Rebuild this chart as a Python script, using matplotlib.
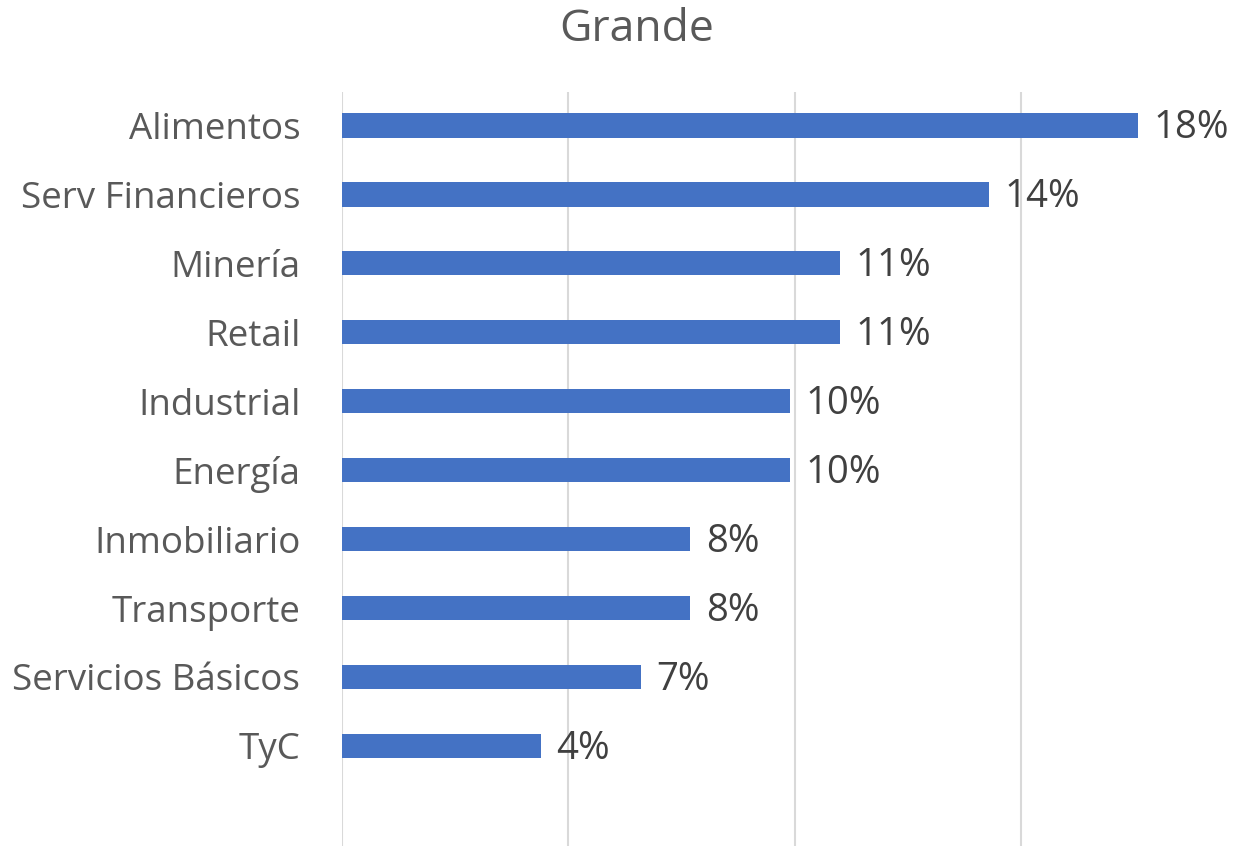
import matplotlib
matplotlib.use('Agg')
import matplotlib.pyplot as plt

plt.rcParams['font.family'] = ['Open Sans', 'DejaVu Sans']

categories = ['Alimentos', 'Serv Financieros', 'Minería', 'Retail', 'Industrial',
              'Energía', 'Inmobiliario', 'Transporte', 'Servicios Básicos', 'TyC']
shares = [17.6, 14.3, 11.0, 11.0, 9.9, 9.9, 7.7, 7.7, 6.6, 4.4]
grid_ticks = [0, 5, 10, 15]

bar_color = '#4472C4'
grid_color = '#D9D9D9'
cat_color = '#595959'
label_color = '#404040'

W, H = 1233, 846
fig = plt.figure(figsize=(W / 100, H / 100), dpi=100)
ax = fig.add_axes([342 / W, 0, 1 - 342 / W, 1 - 92 / H])

pos = list(range(len(categories)))
ax.barh(pos, shares, height=0.36, color=bar_color, zorder=3)
ax.set_ylim(10.45, -0.48)
ax.set_xlim(0, 19.69)

ax.set_xticks(grid_ticks)
ax.set_xticklabels([])
ax.tick_params(axis='x', length=0)
ax.grid(axis='x', color=grid_color, linewidth=1.5, zorder=0)

ax.set_yticks(pos)
ax.set_yticklabels(categories, fontsize=26.5, color=cat_color)
ax.tick_params(axis='y', length=0, pad=30)

for s in ax.spines.values():
    s.set_visible(False)

for p, v in zip(pos, shares):
    ax.annotate(f'{v:.0f}%', xy=(v, p), xytext=(11, -2), textcoords='offset points',
                ha='left', va='center', fontsize=27.5, color=label_color, zorder=4)

fig.text(637 / W, 1 - 30 / H, 'Grande', ha='center', va='center',
         fontsize=32, color=cat_color)

fig.savefig('out.png', dpi=100)
